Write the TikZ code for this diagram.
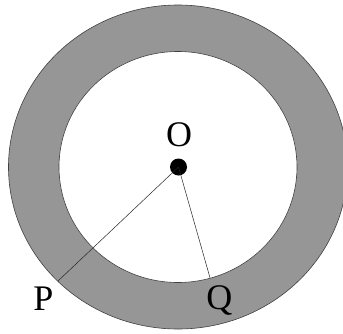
\documentclass[tikz,border=0pt]{standalone}
\usepackage{fontspec}
\setmainfont{Liberation Serif}
\definecolor{RingGray}{RGB}{150,150,150}

\begin{document}
\begin{tikzpicture}[
 x=1pt, y=-1pt,
 ring/.style={draw=black!75, line width=0.6pt},
 spoke/.style={draw=black!85, line width=0.5pt},
 lbl/.style={inner sep=0pt, anchor=base, font=\fontsize{36}{36}\selectfont}
]
\useasboundingbox (0,0) rectangle (343,333);
\fill[RingGray] (178,167) ellipse [x radius=169.5pt, y radius=162pt];
\draw[ring] (178,167) ellipse [x radius=169.5pt, y radius=162pt];
\draw[ring, fill=white] (178,167) ellipse [x radius=119pt, y radius=115.5pt];
\node[circle, fill=black, minimum size=17pt, inner sep=0pt] (O) at (178.5,167) {};
\coordinate (P) at (58.3,280.7);
\coordinate (Q) at (210,277.8);
\draw[spoke] (O.center) -- (P);
\draw[spoke] (O.center) -- (Q);
\node[lbl] (Olbl) at (179,146.5) {O};
\node[lbl] (Plbl) at (43.3,310.5) {P};
\node[lbl] (Qlbl) at (219.3,309.5) {Q};
\end{tikzpicture}
\end{document}
